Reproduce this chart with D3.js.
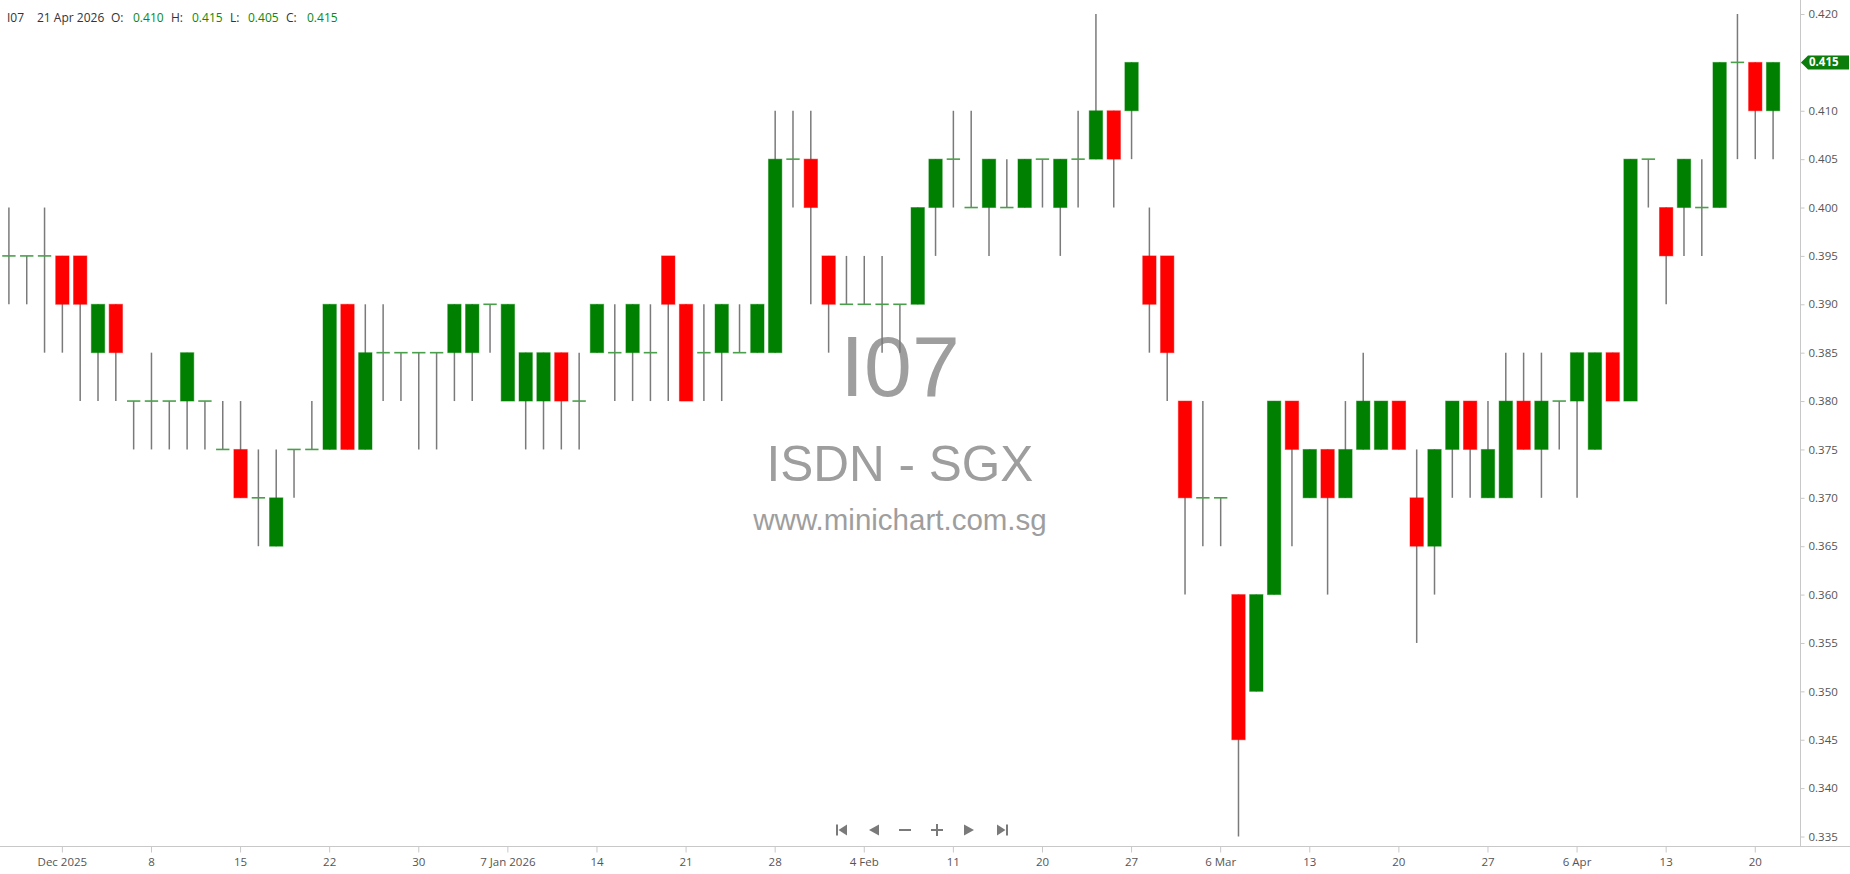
<!DOCTYPE html>
<html>
<head>
<meta charset="utf-8">
<script src="https://cdn.jsdelivr.net/npm/d3@7"></script>
<style>
  html, body { margin: 0; padding: 0; background: #fff; overflow: hidden; }
  svg { display: block; }
</style>
</head>
<body>
<svg id="chart" width="1850" height="874"></svg>
<script>
// ---------------- DATA ----------------
const symbol = "I07";
const titleName = "ISDN - SGX";
const siteName = "www.minichart.com.sg";

const dates = [
  "2025-11-26","2025-11-27","2025-11-28",
  "2025-12-01","2025-12-02","2025-12-03","2025-12-04","2025-12-05",
  "2025-12-08","2025-12-09","2025-12-10","2025-12-11","2025-12-12",
  "2025-12-15","2025-12-16","2025-12-17","2025-12-18","2025-12-19",
  "2025-12-22","2025-12-23","2025-12-24","2025-12-26",
  "2025-12-29","2025-12-30","2025-12-31",
  "2026-01-02",
  "2026-01-05","2026-01-06","2026-01-07","2026-01-08","2026-01-09",
  "2026-01-12","2026-01-13","2026-01-14","2026-01-15","2026-01-16",
  "2026-01-19","2026-01-20","2026-01-21","2026-01-22","2026-01-23",
  "2026-01-26","2026-01-27","2026-01-28","2026-01-29","2026-01-30",
  "2026-02-02","2026-02-03","2026-02-04","2026-02-05","2026-02-06",
  "2026-02-09","2026-02-10","2026-02-11","2026-02-12","2026-02-13",
  "2026-02-16","2026-02-19","2026-02-20",
  "2026-02-23","2026-02-24","2026-02-25","2026-02-26","2026-02-27",
  "2026-03-02","2026-03-03","2026-03-04","2026-03-05","2026-03-06",
  "2026-03-09","2026-03-10","2026-03-11","2026-03-12","2026-03-13",
  "2026-03-16","2026-03-17","2026-03-18","2026-03-19","2026-03-20",
  "2026-03-23","2026-03-24","2026-03-25","2026-03-26","2026-03-27",
  "2026-03-30","2026-03-31","2026-04-01","2026-04-02",
  "2026-04-06","2026-04-07","2026-04-08","2026-04-09","2026-04-10",
  "2026-04-13","2026-04-14","2026-04-15","2026-04-16","2026-04-17",
  "2026-04-20","2026-04-21"
];

const open = [
  0.395,0.395,0.395,0.395,0.395,0.385,0.390,0.380,0.380,0.380,
  0.380,0.380,0.375,0.375,0.370,0.365,0.375,0.375,0.375,0.390,
  0.375,0.385,0.385,0.385,0.385,0.385,0.385,0.390,0.380,0.380,
  0.380,0.385,0.380,0.385,0.385,0.385,0.385,0.395,0.390,0.385,
  0.385,0.385,0.385,0.385,0.405,0.405,0.395,0.390,0.390,0.390,
  0.390,0.390,0.400,0.405,0.400,0.400,0.400,0.400,0.405,0.400,
  0.405,0.405,0.410,0.410,0.395,0.395,0.380,0.370,0.370,0.360,
  0.350,0.360,0.380,0.370,0.375,0.370,0.375,0.375,0.380,0.370,
  0.365,0.375,0.380,0.370,0.370,0.380,0.375,0.380,0.380,0.375,
  0.385,0.380,0.405,0.400,0.400,0.400,0.400,0.415,0.415,0.410
];
const high = [
  0.400,0.395,0.400,0.395,0.395,0.390,0.390,0.380,0.385,0.380,
  0.385,0.380,0.380,0.380,0.375,0.375,0.375,0.380,0.390,0.390,
  0.390,0.390,0.385,0.385,0.385,0.390,0.390,0.390,0.390,0.385,
  0.385,0.385,0.385,0.390,0.390,0.390,0.390,0.395,0.390,0.390,
  0.390,0.390,0.390,0.410,0.410,0.410,0.395,0.395,0.395,0.395,
  0.390,0.400,0.405,0.410,0.410,0.405,0.405,0.405,0.405,0.405,
  0.410,0.420,0.410,0.415,0.400,0.395,0.380,0.380,0.370,0.360,
  0.360,0.380,0.380,0.375,0.375,0.380,0.385,0.380,0.380,0.375,
  0.375,0.380,0.380,0.380,0.385,0.385,0.385,0.380,0.385,0.385,
  0.385,0.405,0.405,0.400,0.405,0.405,0.415,0.420,0.415,0.415
];
const low = [
  0.390,0.390,0.385,0.385,0.380,0.380,0.380,0.375,0.375,0.375,
  0.375,0.375,0.375,0.370,0.365,0.365,0.370,0.375,0.375,0.375,
  0.375,0.380,0.380,0.375,0.375,0.380,0.380,0.385,0.380,0.375,
  0.375,0.375,0.375,0.385,0.380,0.380,0.380,0.380,0.380,0.380,
  0.380,0.385,0.385,0.385,0.400,0.390,0.385,0.390,0.390,0.385,
  0.385,0.390,0.395,0.400,0.400,0.395,0.400,0.400,0.400,0.395,
  0.400,0.405,0.400,0.405,0.385,0.380,0.360,0.365,0.365,0.335,
  0.350,0.360,0.365,0.370,0.360,0.370,0.375,0.375,0.375,0.355,
  0.360,0.370,0.370,0.370,0.370,0.375,0.370,0.375,0.370,0.375,
  0.380,0.380,0.400,0.390,0.395,0.395,0.400,0.405,0.405,0.405
];
const close = [
  0.395,0.395,0.395,0.390,0.390,0.390,0.385,0.380,0.380,0.380,
  0.385,0.380,0.375,0.370,0.370,0.370,0.375,0.375,0.390,0.375,
  0.385,0.385,0.385,0.385,0.385,0.390,0.390,0.390,0.390,0.385,
  0.385,0.380,0.380,0.390,0.385,0.390,0.385,0.390,0.380,0.385,
  0.390,0.385,0.390,0.405,0.405,0.400,0.390,0.390,0.390,0.390,
  0.390,0.400,0.405,0.405,0.400,0.405,0.400,0.405,0.405,0.405,
  0.405,0.410,0.405,0.415,0.390,0.385,0.370,0.370,0.370,0.345,
  0.360,0.380,0.375,0.375,0.370,0.375,0.380,0.380,0.375,0.365,
  0.375,0.380,0.375,0.375,0.380,0.375,0.380,0.380,0.385,0.385,
  0.380,0.405,0.405,0.395,0.405,0.400,0.415,0.415,0.410,0.415
];

const xTickDates = [
  "2025-12-01","2025-12-08","2025-12-15","2025-12-22","2025-12-30",
  "2026-01-07","2026-01-14","2026-01-21","2026-01-28","2026-02-04",
  "2026-02-11","2026-02-20","2026-02-27","2026-03-06","2026-03-13",
  "2026-03-20","2026-03-27","2026-04-06","2026-04-13","2026-04-20"
];
const xTickLabels = [
  "Dec 2025","8","15","22","30",
  "7 Jan 2026","14","21","28","4 Feb",
  "11","20","27","6 Mar","13",
  "20","27","6 Apr","13","20"
];
const yTicks = [0.335,0.340,0.345,0.350,0.355,0.360,0.365,0.370,0.375,0.380,
                0.385,0.390,0.395,0.400,0.405,0.410,0.415,0.420];

// ---------------- CHART ----------------
const W = 1850, H = 874;
const plotRight = 1800;
const axisY = 846.5;
const UP = "#008000", DOWN = "#ff0000";
const FONT = "'Open Sans', 'Segoe UI', sans-serif";

const bars = dates.map((d, i) => ({ date: d, o: open[i], h: high[i], l: low[i], c: close[i] }));

const svg = d3.select("#chart");

const x = d3.scaleBand().domain(dates).range([0, 1782]).padding(0);
const cx = d => x(d) + x.bandwidth() / 2;
const bodyW = x.bandwidth() * 0.75;
const y = d3.scaleLinear().domain([0.335, 0.420]).range([836.5, 14]);

// Watermark
const wm = svg.append("g").attr("font-family", "'Liberation Sans', Arial, sans-serif")
  .attr("fill", "#9e9e9e").attr("text-anchor", "middle");
wm.append("text").attr("x", 900).attr("y", 396).attr("font-size", 86).text(symbol);
wm.append("text").attr("x", 900).attr("y", 481).attr("font-size", 49.5).text(titleName);
wm.append("text").attr("x", 900).attr("y", 530).attr("font-size", 29.5).text(siteName);

// Candles
const g = svg.append("g");
// wicks
g.selectAll("line.wick").data(bars).join("line")
  .attr("class", "wick")
  .attr("x1", d => cx(d.date)).attr("x2", d => cx(d.date))
  .attr("y1", d => y(d.h)).attr("y2", d => y(d.l))
  .attr("stroke", "#7a7a7a").attr("stroke-width", 1.5);

// bodies
g.selectAll("rect.body").data(bars.filter(d => d.o !== d.c)).join("rect")
  .attr("class", "body")
  .attr("x", d => cx(d.date) - bodyW / 2)
  .attr("width", bodyW)
  .attr("y", d => y(Math.max(d.o, d.c)))
  .attr("height", d => Math.abs(y(d.o) - y(d.c)))
  .attr("fill", d => d.c > d.o ? UP : DOWN)
  .attr("stroke", d => d.c > d.o ? "rgba(0,128,0,0.45)" : "rgba(255,0,0,0.45)")
  .attr("stroke-width", 1);

// dojis
g.selectAll("line.doji").data(bars.filter(d => d.o === d.c)).join("line")
  .attr("class", "doji")
  .attr("x1", d => cx(d.date) - bodyW / 2).attr("x2", d => cx(d.date) + bodyW / 2)
  .attr("y1", d => y(d.c)).attr("y2", d => y(d.c))
  .attr("stroke", "#4aa04a").attr("stroke-width", 1.6);

// Axes lines
svg.append("line").attr("x1", 0).attr("x2", W).attr("y1", axisY).attr("y2", axisY)
  .attr("stroke", "#c8c8c8").attr("stroke-width", 1);
svg.append("line").attr("x1", plotRight + 0.5).attr("x2", plotRight + 0.5).attr("y1", 0).attr("y2", axisY)
  .attr("stroke", "#c8c8c8").attr("stroke-width", 1);

// Right axis
const yAxis = svg.append("g").attr("transform", `translate(${plotRight + 0.5},0)`)
  .call(d3.axisRight(y).tickValues(yTicks).tickFormat(d3.format(".3f")).tickSize(4).tickPadding(4));
yAxis.select(".domain").remove();
yAxis.selectAll(".tick line").attr("stroke", "#c8c8c8");
yAxis.selectAll(".tick text").attr("fill", "#555").attr("font-size", 11.5).attr("font-family", FONT);

// Bottom axis
const xAxis = svg.append("g").attr("transform", `translate(0,${axisY})`)
  .call(d3.axisBottom(x).tickValues(xTickDates).tickFormat((d, i) => xTickLabels[i]).tickSize(6).tickPadding(5));
xAxis.select(".domain").remove();
xAxis.selectAll(".tick line").attr("stroke", "#c8c8c8");
xAxis.selectAll(".tick text").attr("fill", "#555").attr("font-size", 11.5).attr("font-family", FONT);

// Last price tag
const last = bars[bars.length - 1];
const ty = y(last.c);
svg.append("path")
  .attr("d", `M${plotRight + 1},${ty} L${plotRight + 8},${ty - 7} L${W - 1},${ty - 7} L${W - 1},${ty + 7} L${plotRight + 8},${ty + 7} Z`)
  .attr("fill", "#0a7d0a");
svg.append("text").attr("x", plotRight + 9).attr("y", ty).attr("dy", "0.35em")
  .attr("fill", "#fff").attr("font-size", 11.5).attr("font-weight", "bold").attr("font-family", FONT)
  .text(d3.format(".3f")(last.c));

// Header
const fmtDate = d3.timeFormat("%-d %b %Y");
const parse = d3.timeParse("%Y-%m-%d");
const hdr = svg.append("g").attr("font-family", FONT).attr("font-size", 12);
const hdrItems = [
  { x: 7, t: symbol, c: "#333" },
  { x: 37, t: fmtDate(parse(last.date)), c: "#333" },
  { x: 111, t: "O:", c: "#333" },
  { x: 133, t: d3.format(".3f")(last.o), c: "#0a8a0a" },
  { x: 171, t: "H:", c: "#333" },
  { x: 192, t: d3.format(".3f")(last.h), c: "#0a8a0a" },
  { x: 230, t: "L:", c: "#333" },
  { x: 248, t: d3.format(".3f")(last.l), c: "#0a8a0a" },
  { x: 286, t: "C:", c: "#333" },
  { x: 307, t: d3.format(".3f")(last.c), c: "#0a8a0a" }
];
hdr.selectAll("text").data(hdrItems).join("text")
  .attr("x", d => d.x).attr("y", 22).attr("fill", d => d.c).text(d => d.t);

// Navigation icons
const nav = svg.append("g").attr("fill", "#7a7a7a").attr("stroke", "none");
const ny = 830;
nav.append("rect").attr("x", 836).attr("y", ny - 5.5).attr("width", 2).attr("height", 11);
nav.append("path").attr("d", `M847,${ny - 5.5} L847,${ny + 5.5} L838.5,${ny} Z`);
nav.append("path").attr("d", `M879,${ny - 5.5} L879,${ny + 5.5} L869,${ny} Z`);
nav.append("rect").attr("x", 899).attr("y", ny - 1).attr("width", 12).attr("height", 2);
nav.append("rect").attr("x", 931).attr("y", ny - 1).attr("width", 12).attr("height", 2);
nav.append("rect").attr("x", 936).attr("y", ny - 6).attr("width", 2).attr("height", 12);
nav.append("path").attr("d", `M964,${ny - 5.5} L964,${ny + 5.5} L974,${ny} Z`);
nav.append("path").attr("d", `M997,${ny - 5.5} L997,${ny + 5.5} L1005.5,${ny} Z`);
nav.append("rect").attr("x", 1006).attr("y", ny - 5.5).attr("width", 2).attr("height", 11);
</script>
</body>
</html>
